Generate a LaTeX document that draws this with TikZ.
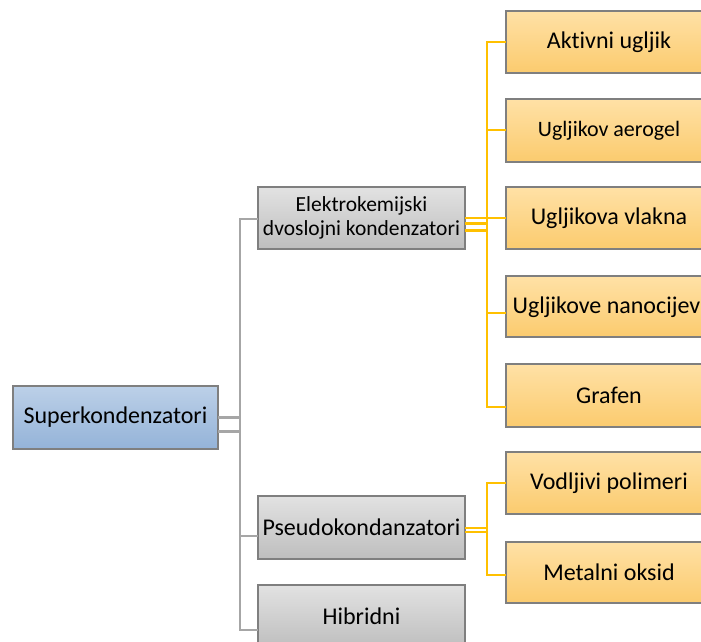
\documentclass[tikz,border=0pt]{standalone}
\usepackage{fontspec}
\setmainfont{Carlito}[Ligatures=NoCommon]
\usetikzlibrary{shadings}
\definecolor{boxborder}{HTML}{7F7F7F}
\definecolor{blueT}{HTML}{BCD0E8}
\definecolor{blueB}{HTML}{94B3D8}
\definecolor{grayT}{HTML}{E2E2E2}
\definecolor{grayB}{HTML}{BEBEBE}
\definecolor{orT}{HTML}{FFE1A6}
\definecolor{orB}{HTML}{FBCB6E}
\definecolor{lineGray}{HTML}{A6A6A6}
\definecolor{lineYellow}{HTML}{FFC000}
\begin{document}
\begin{tikzpicture}[x=1pt,y=-1pt,
  box/.style={draw=boxborder, line width=1.2pt, minimum width=206pt, minimum height=62pt,
    inner sep=2pt, outer sep=0pt, font=\fontsize{24}{29}\selectfont, text=black},
  bluebox/.style={box, top color=blueT, bottom color=blueB},
  graybox/.style={box, top color=grayT, bottom color=grayB},
  orbox/.style={box, top color=orT, bottom color=orB},
  gline/.style={draw=lineGray, line width=2.8pt},
  yline/.style={draw=lineYellow, line width=2.7pt}]
\useasboundingbox (0,0) rectangle (701,641);
\clip (0,0) rectangle (701,641);

\coordinate (gt1) at (240,417.5);
\coordinate (gt2) at (240,431.5);
\coordinate (yt1) at (487,218.3);
\coordinate (yt2) at (487,223.3);
\coordinate (yt3) at (487,230.7);
\coordinate (yp1) at (487,527.5);
\coordinate (yp2) at (487,531.5);

% level 0
\node[bluebox, minimum width=205pt, minimum height=63pt] (super) at (115.5,417.5) {Superkondenzatori};
% level 1
\node[graybox, minimum width=207pt, align=center, font=\fontsize{21.5}{24}\selectfont] (elek) at (361.5,218) {Elektrokemijski\\dvoslojni kondenzatori};
\node[graybox, minimum width=207pt, minimum height=63pt] (pseudo) at (361.5,527.5) {Pseudokondanzatori};
\node[graybox, minimum width=207pt, minimum height=63pt] (hib) at (361.5,616.5) {Hibridni};
% level 2
\node[orbox] (akt) at (609,42) {Aktivni ugljik};
\node[orbox, minimum height=63pt, font=\fontsize{22}{26}\selectfont] (aero) at (609,130.5) {Ugljikov aerogel};
\node[orbox] (vlak) at (609,218) {Ugljikova vlakna};
\node[orbox, minimum height=61pt] (nano) at (609,306.5) {};
\node[anchor=west, inner sep=0pt, font=\fontsize{24}{29}\selectfont] (nanotxt) at (512.5,307) {Ugljikove nanocijev};
\node[orbox, minimum height=63pt] (graf) at (609,395.5) {Grafen};
\node[orbox] (vod) at (609,483) {Vodljivi polimeri};
\node[orbox, minimum height=61pt] (met) at (609,572.5) {Metalni oksid};

% gray connectors
\draw[gline] (super.east) -- (gt1) |- ([yshift=-1pt]elek.west);
\draw[gline] ([yshift=-14pt]super.east) -- (gt2) |- ([yshift=-8.5pt]pseudo.west);
\draw[gline] (gt1) |- ([yshift=-13.5pt]hib.west);

% yellow connectors (Elektrokemijski)
\draw[yline] (elek.east) -- (vlak.west);
\draw[yline] ([yshift=-5.3pt]elek.east) -- (yt2);
\draw[yline] ([yshift=-12.7pt]elek.east) -- (yt3);
\draw[yline] (akt.west) -| (yt1) |- ([yshift=-11.5pt]graf.west);
\draw[yline] (yt1) |- ([yshift=0.5pt]aero.west);
\draw[yline] (yt3) |- ([yshift=-6.5pt]nano.west);

% yellow connectors (Pseudo)
\draw[yline, line width=2pt] (pseudo.east) -- (yp1);
\draw[yline, line width=2pt] ([yshift=-4pt]pseudo.east) -- (yp2);
\draw[yline] (vod.west) -| (yp1) |- ([yshift=-2.5pt]met.west);
\end{tikzpicture}
\end{document}
